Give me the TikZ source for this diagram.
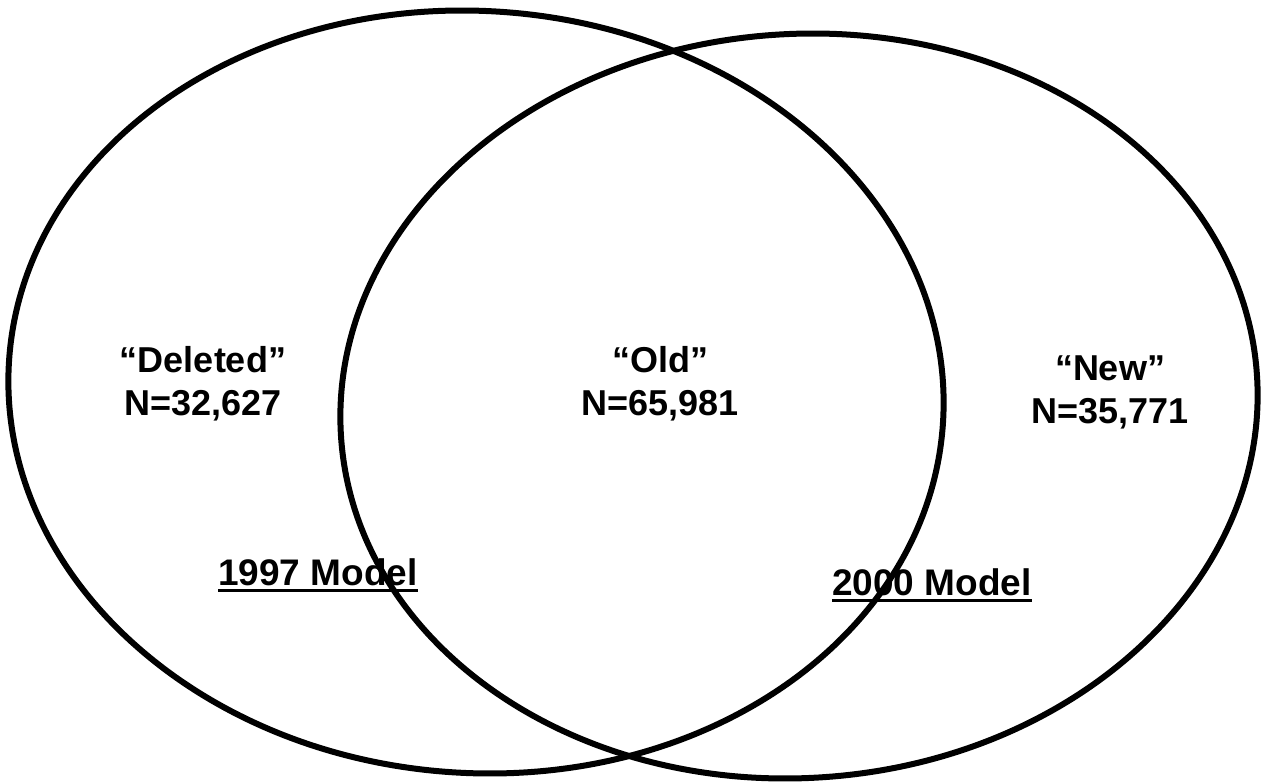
\documentclass[tikz,border=0pt]{standalone}
\usepackage{fontspec}
\setmainfont{Liberation Sans}
\usetikzlibrary{shapes.geometric}
\tikzset{
  venn/.style={draw=black, line width=6pt, ellipse, inner sep=0pt},
  lbl/.style={font=\fontsize{36}{43}\selectfont\bfseries, align=center, inner sep=0pt},
  mlbl/.style={font=\fontsize{37}{42}\selectfont\bfseries, inner sep=0pt},
  uline/.style={line width=3pt}
}
\begin{document}
\begin{tikzpicture}[x=1pt,y=-1pt]
\useasboundingbox (0,0) rectangle (1264,783);
\node[venn, minimum width=936pt, minimum height=762pt, rotate=-4] (A) at (476,392) {};
\node[venn, minimum width=918pt, minimum height=744pt, rotate=4] (B) at (799,406) {};
\node[lbl] (del) at (203,384) {``Deleted''\\N=32,627};
\node[lbl] (old) at (660,384) {``Old''\\N=65,981};
\node[lbl] (new) at (1110,392) {``New''\\N=35,771};
\node[mlbl] (m97) at (318,572) {1997 Model};
\node[mlbl] (m00) at (932,582) {2000 Model};
\draw[uline] ([yshift=-5pt]m97.base west) -- ([yshift=-5pt]m97.base east);
\draw[uline] ([yshift=-5pt]m00.base west) -- ([yshift=-5pt]m00.base east);
\end{tikzpicture}
\end{document}
